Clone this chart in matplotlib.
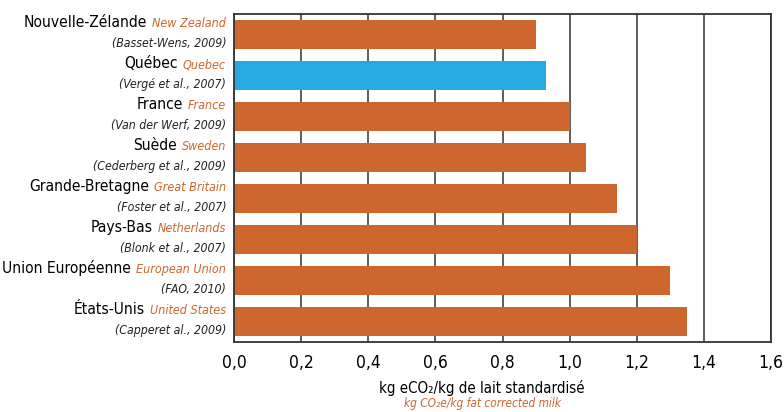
import matplotlib
matplotlib.use("Agg")
import matplotlib.pyplot as plt
from matplotlib import font_manager as fm

countries = ["Nouvelle-Zélande", "Québec", "France", "Suède", "Grande-Bretagne",
             "Pays-Bas", "Union Européenne", "États-Unis"]
english = ["New Zealand", "Quebec", "France", "Sweden", "Great Britain",
           "Netherlands", "European Union", "United States"]
sources = ["(Basset-Wens, 2009)", "(Vergé et al., 2007)", "(Van der Werf, 2009)",
           "(Cederberg et al., 2009)", "(Foster et al., 2007)", "(Blonk et al., 2007)",
           "(FAO, 2010)", "(Capperet al., 2009)"]
values = [0.90, 0.93, 1.00, 1.05, 1.14, 1.20, 1.30, 1.35]
xticks = [0.0, 0.2, 0.4, 0.6, 0.8, 1.0, 1.2, 1.4, 1.6]

ORANGE = "#CD672D"
BLUE = "#27AAE1"
GRID = "#333333"

# look for a narrow/condensed face, the reference uses a condensed grotesque
regular, italic = None, None
for f in fm.fontManager.ttflist:
    key = (f.name + " " + f.fname).lower()
    if not ("narrow" in key or "condensed" in key):
        continue
    if f.weight not in (400, "normal", "regular"):
        continue
    if f.style == "normal" and regular is None:
        regular = f.fname
    elif f.style in ("italic", "oblique") and italic is None:
        italic = f.fname

if regular:
    fp_reg = fm.FontProperties(fname=regular)
    fp_it = fm.FontProperties(fname=italic or regular)
    scale = 1.0
else:
    fp_reg = fm.FontProperties(family="Liberation Sans")
    fp_it = fm.FontProperties(family="Liberation Sans", style="italic")
    scale = 0.82


def fp(base, size):
    p = base.copy()
    p.set_size(size * scale)
    return p


fig = plt.figure(figsize=(7.84, 4.12), dpi=100)
ax = fig.add_axes([234 / 784, 1 - 342 / 412, (771 - 234) / 784, (342 - 14) / 412])

colors = [BLUE if c == "Québec" else ORANGE for c in countries]
ypos = list(range(len(values)))
ax.barh(ypos, values, height=0.72, color=colors, zorder=2)

ax.set_xlim(0, 1.6)
ax.set_ylim(len(values) - 0.5, -0.5)
ax.set_xticks(xticks)
ax.set_xticklabels([f"{t:.1f}".replace(".", ",") for t in xticks],
                   fontproperties=fp(fp_reg, 12.5))
ax.set_yticks([])
ax.tick_params(axis="x", length=0, pad=9)
ax.grid(axis="x", color=GRID, lw=1.1, zorder=1)
for s in ax.spines.values():
    s.set_color(GRID)
    s.set_linewidth(1.3)

trans = ax.get_yaxis_transform()
for i in ypos:
    eng = ax.annotate(english[i], xy=(0, i), xycoords=trans, xytext=(-8, 11),
                      textcoords="offset pixels", ha="right", va="center",
                      fontproperties=fp(fp_it, 9.0), color=ORANGE)
    ax.annotate(countries[i], xy=(0, 0.5), xycoords=eng, xytext=(-5, 1),
                textcoords="offset pixels", ha="right", va="center",
                fontproperties=fp(fp_reg, 11.2), color="black")
    ax.annotate(sources[i], xy=(0, i), xycoords=trans, xytext=(-8, -9),
                textcoords="offset pixels", ha="right", va="center",
                fontproperties=fp(fp_it, 8.8), color="#222222")

fig.text(482 / 784, 1 - 388 / 412, "kg eCO₂/kg de lait standardisé",
         ha="center", va="center", fontproperties=fp(fp_reg, 10.8))
fig.text(482 / 784, 1 - 404 / 412, "kg CO₂e/kg fat corrected milk",
         ha="center", va="center", fontproperties=fp(fp_it, 8.5), color=ORANGE)

fig.savefig("out.png", dpi=100)
